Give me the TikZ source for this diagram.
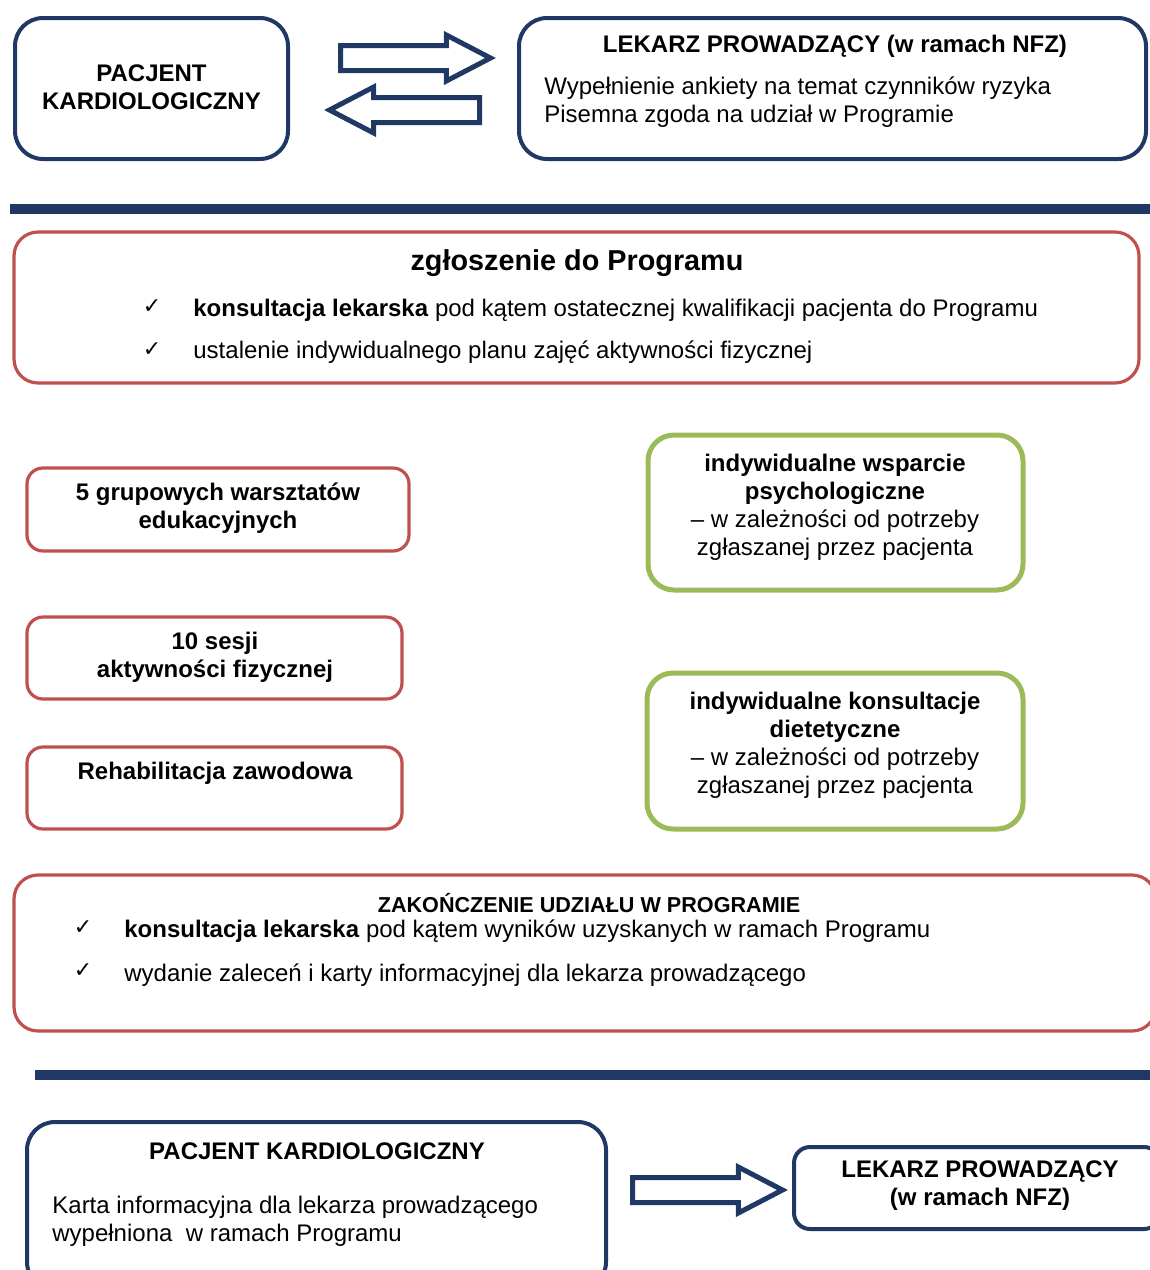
\documentclass[tikz,border=0pt]{standalone}
\usepackage{fontspec}
\setmainfont{Liberation Sans}
\newfontfamily\symfont{DejaVu Sans}
\usetikzlibrary{shapes.arrows}

\definecolor{navy}{RGB}{31,56,100}
\definecolor{boxred}{RGB}{192,80,77}
\definecolor{boxgreen}{RGB}{155,187,89}

\tikzset{
  navybox/.style={draw=navy, line width=2pt, rounded corners=14pt},
  redbox/.style={draw=boxred, line width=1.6pt, rounded corners=12pt},
  smallred/.style={draw=boxred, line width=1.6pt, rounded corners=8pt},
  greenbox/.style={draw=boxgreen, line width=2.5pt, rounded corners=13pt},
  smallnavy/.style={draw=navy, line width=2pt, rounded corners=8pt},
  bar/.style={navy, line width=5pt},
  blockarrow/.style={single arrow, draw=navy, fill=white, line width=2.5pt,
    inner sep=5pt, single arrow head extend=5.25pt, single arrow tip angle=55,
    minimum height=75pt, anchor=tail},
  txt/.style={font=\fontsize{12}{14}\selectfont, inner sep=0pt},
  bold/.style={font=\fontsize{12}{14}\selectfont\bfseries, inner sep=0pt},
  tick/.style={font=\symfont\fontsize{11}{12}\selectfont, inner sep=0pt},
}

\begin{document}
\begin{tikzpicture}[x=0.5pt, y=-0.5pt]
\useasboundingbox (0,0) rectangle (1150,1270);
\clip (0,0) rectangle (1150,1270);

% top row
\node[navybox, minimum width=136.5pt, minimum height=70.5pt] (pacjent) at (151.5,88.5) {};
\node[bold, align=center] (pacjentTxt) at (151.5,87) {PACJENT\\KARDIOLOGICZNY};
\node[navybox, minimum width=313.5pt, minimum height=70.5pt] (lekarz) at (832.5,88.5) {};
\node[bold] (lekarzTxt) at (835,46) {LEKARZ PROWADZĄCY (w ramach NFZ)};
\node[txt, align=left, anchor=west] (lekarzList) at (544,102) {Wypełnienie ankiety na temat czynników ryzyka\\Pisemna zgoda na udział w Programie};
\node[blockarrow] (toLekarz) at (338,58) {};
\node[blockarrow, shape border rotate=180] (toPacjent) at (482,110) {};

\draw[bar] (10,209) -- (1150,209);

% zgloszenie
\node[redbox, minimum width=562.5pt, minimum height=75.5pt] (zgloszenie) at (576.5,307.5) {};
\node[font=\fontsize{14.4}{16}\selectfont\bfseries, inner sep=0pt] (zgloszenieTxt) at (577,263) {zgłoszenie do Programu};
\node[tick] (tickA) at (152,307) {✓};
\node[txt, anchor=west] (zgA) at (193,310) {\textbf{konsultacja lekarska} pod kątem ostatecznej kwalifikacji pacjenta do Programu};
\node[tick] (tickB) at (152,350) {✓};
\node[txt, anchor=west] (zgB) at (193,352) {ustalenie indywidualnego planu zajęć aktywności fizycznej};

% zajecia
\node[smallred, minimum width=191pt, minimum height=41.5pt] (warsztaty) at (218,509.5) {};
\node[bold, align=center] (warsztatyTxt) at (218,508) {5 grupowych warsztatów\\edukacyjnych};
\node[smallred, minimum width=187.5pt, minimum height=41pt] (sesje) at (214.5,658) {};
\node[bold, align=center] (sesjeTxt) at (215,657) {10 sesji\\aktywności fizycznej};
\node[smallred, minimum width=187.5pt, minimum height=41pt] (rehab) at (214.5,788) {};
\node[bold] (rehabTxt) at (215,773) {Rehabilitacja zawodowa};

\node[greenbox, minimum width=187.5pt, minimum height=77.5pt] (psych) at (835.5,512.5) {};
\node[txt, align=center] (psychTxt) at (835,507) {\textbf{indywidualne wsparcie}\\\textbf{psychologiczne}\\– w zależności od potrzeby\\zgłaszanej przez pacjenta};
\node[greenbox, minimum width=188pt, minimum height=78pt] (diet) at (835,751) {};
\node[txt, align=center] (dietTxt) at (835,745) {\textbf{indywidualne konsultacje}\\\textbf{dietetyczne}\\– w zależności od potrzeby\\zgłaszanej przez pacjenta};

% zakonczenie
\node[redbox, minimum width=571pt, minimum height=78pt] (koniec) at (585,953) {};
\node[font=\fontsize{10.8}{12}\selectfont\bfseries, inner sep=0pt] (koniecTxt) at (589,903) {ZAKOŃCZENIE UDZIAŁU W PROGRAMIE};
\node[tick] (tickC) at (83,928) {✓};
\node[txt, anchor=west] (koA) at (124,931) {\textbf{konsultacja lekarska} pod kątem wyników uzyskanych w ramach Programu};
\node[tick] (tickD) at (83,971) {✓};
\node[txt, anchor=west] (koB) at (124,975) {wydanie zaleceń i karty informacyjnej dla lekarza prowadzącego};

\draw[bar] (35,1075) -- (1150,1075);

% bottom row
\node[navybox, minimum width=289.5pt, minimum height=84pt] (pacjentEnd) at (316.5,1206) {};
\node[bold] (pacjentEndTxt) at (317,1151) {PACJENT KARDIOLOGICZNY};
\node[txt, align=left, anchor=west] (kartaTxt) at (52,1221) {Karta informacyjna dla lekarza prowadzącego\\wypełniona~ w ramach Programu};
\node[smallnavy, minimum width=183pt, minimum height=41pt] (lekarzEnd) at (977,1188) {};
\node[bold, align=center] (lekarzEndTxt) at (980,1186) {LEKARZ PROWADZĄCY\\(w ramach NFZ)};
\node[blockarrow] (toLekarzEnd) at (630,1190) {};
\end{tikzpicture}
\end{document}
